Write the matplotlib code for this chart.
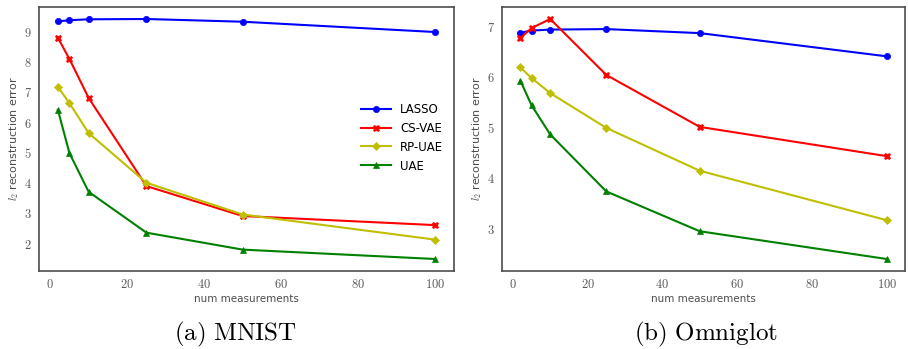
import numpy as np
import matplotlib.pyplot as plt
from matplotlib.ticker import FuncFormatter

plt.rcParams['mathtext.fontset'] = 'cm'
plt.rcParams['font.family'] = 'DejaVu Sans'

# -----------------------
# data
# -----------------------
num_meas = [2, 5, 10, 25, 50, 100]
methods = ['LASSO', 'CS-VAE', 'RP-UAE', 'UAE']

mnist_lasso = [9.34, 9.38, 9.41, 9.42, 9.33, 8.99]
mnist_csvae = [8.80, 8.10, 6.81, 3.90, 2.91, 2.61]
mnist_rpuae = [7.18, 6.64, 5.65, 4.01, 2.96, 2.13]
mnist_uae = [6.42, 4.99, 3.71, 2.36, 1.80, 1.49]

omni_lasso = [6.89, 6.93, 6.95, 6.96, 6.88, 6.42]
omni_csvae = [6.78, 6.98, 7.16, 6.05, 5.02, 4.44]
omni_rpuae = [6.20, 5.99, 5.69, 5.00, 4.15, 3.17]
omni_uae = [5.94, 5.45, 4.87, 3.74, 2.95, 2.40]

styles = [('b', 'o', 4.5), ('r', 'X', 5), ('y', 'D', 4.2), ('g', '^', 4.5)]

fig = plt.figure(figsize=(9.08, 3.49), dpi=100)
ax1 = fig.add_axes([39/908, 1 - 271/349, 415/908, 264/349])
ax2 = fig.add_axes([502/908, 1 - 271/349, 403/908, 264/349])

mathfmt = FuncFormatter(lambda v, p: r'$%d$' % v)

for ax, series, caption, cx in [
        (ax1, [mnist_lasso, mnist_csvae, mnist_rpuae, mnist_uae], r'$\mathrm{(a)\ MNIST}$', 235),
        (ax2, [omni_lasso, omni_csvae, omni_rpuae, omni_uae], r'$\mathrm{(b)\ Omniglot}$', 706)]:
    for name, vals, (c, m, ms) in zip(methods, series, styles):
        ax.plot(num_meas, vals, color=c, marker=m, markersize=ms, lw=1.5,
                markeredgewidth=0.5, label=name)
    ax.set_xticks([0, 20, 40, 60, 80, 100])
    ax.xaxis.set_major_formatter(mathfmt)
    ax.yaxis.set_major_formatter(mathfmt)
    ax.tick_params(length=0, labelsize=9, labelcolor='0.35', pad=5)
    for s in ax.spines.values():
        s.set_color('0.3')
        s.set_linewidth(1.2)
    ax.set_xlabel('num measurements', fontsize=7.5, color='0.3', labelpad=2)
    ax.set_ylabel(r'$l_2$ reconstruction error', fontsize=8, color='0.3', labelpad=2)
    fig.text(cx / 908, 1 - 334 / 349, caption, ha='center', va='center', fontsize=18)

ax1.set_yticks([2, 3, 4, 5, 6, 7, 8, 9])
ax2.set_yticks([3, 4, 5, 6, 7])

ax1.legend(loc='center right', frameon=False, fontsize=8.5, bbox_to_anchor=(1.0, 0.505),
           handlelength=2.5)

plt.savefig('out.png', dpi=100)
